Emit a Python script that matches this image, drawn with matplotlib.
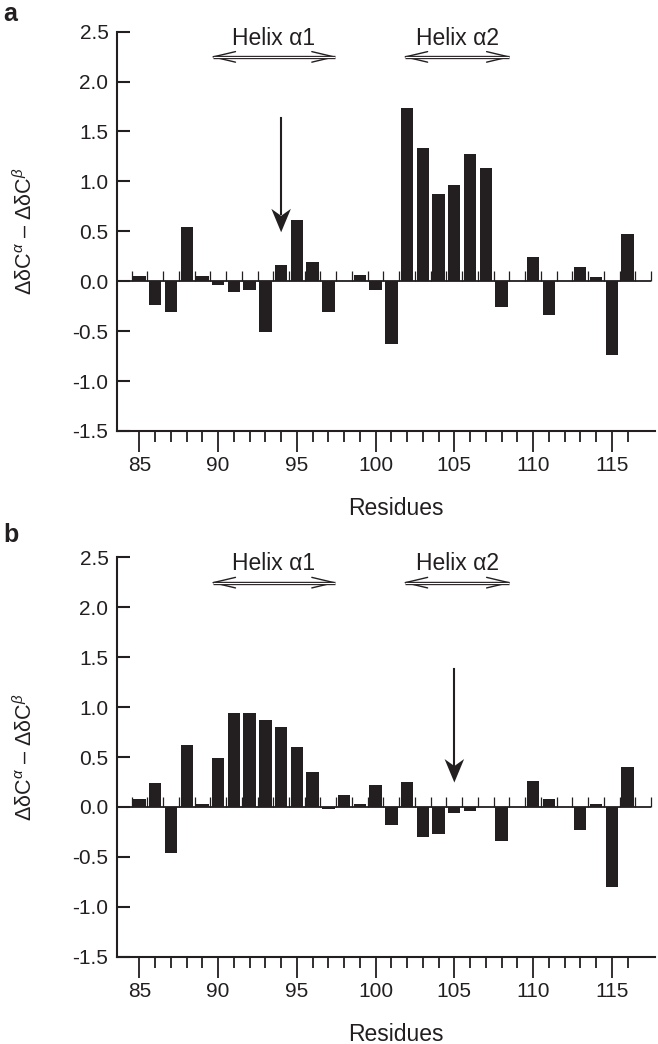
import numpy as np
import matplotlib
matplotlib.use("Agg")
import matplotlib.pyplot as plt
from matplotlib.patches import Polygon, FancyArrowPatch

plt.rcParams["font.family"] = ["Liberation Sans", "DejaVu Sans"]
plt.rcParams["mathtext.fontset"] = "custom"
plt.rcParams["mathtext.rm"] = "Liberation Sans"
plt.rcParams["mathtext.it"] = "Liberation Sans:italic"

INK = "#231F20"

# residues and chemical-shift differences
residues = list(range(85, 117))
shift_a = [0.05, -0.24, -0.31, 0.54, 0.05, -0.04, -0.11, -0.09, -0.51, 0.16, 0.61, 0.19,
           -0.31, 0.0, 0.06, -0.09, -0.63, 1.74, 1.33, 0.87, 0.96, 1.27, 1.13, -0.26,
           0.0, 0.24, -0.34, 0.0, 0.14, 0.04, -0.74, 0.47]
shift_b = [0.08, 0.24, -0.46, 0.62, 0.03, 0.49, 0.94, 0.94, 0.87, 0.80, 0.60, 0.35,
           -0.02, 0.12, 0.03, 0.22, -0.18, 0.25, -0.30, -0.27, -0.06, -0.04, 0.0, -0.34,
           0.0, 0.26, 0.08, 0.0, -0.23, 0.03, -0.80, 0.40]
yticks = [-1.5, -1.0, -0.5, 0.0, 0.5, 1.0, 1.5, 2.0, 2.5]
ytick_labels = ["-1.5", "-1.0", "-0.5", "0.0", "0.5", "1.0", "1.5", "2.0", "2.5"]
xticks_major = [85, 90, 95, 100, 105, 110, 115]
helices = [("Helix \u03b11", 89.5, 97.55), ("Helix \u03b12", 101.7, 108.65)]
arrow_res = {"a": (94, 1.63, 0.49), "b": (105, 1.38, 0.245)}

XL = (83.56, 117.74)
FS = 15
FS_TXT = 16.5

fig = plt.figure(figsize=(6.58, 10.44), dpi=100)
axes = {"a": fig.add_axes([0.1774, 0.5872, 0.818, 0.3825]),
        "b": fig.add_axes([0.1774, 0.0836, 0.818, 0.3825])}

def panel(ax, vals, key):
    ax.bar(residues, vals, width=0.78, color=INK, edgecolor="none", zorder=3)
    ax.plot([XL[0], 117.5], [0, 0], color=INK, lw=1.3, zorder=4, solid_capstyle="butt")
    edges = np.arange(84.5, 118.0, 1.0)
    ax.vlines(edges, 0, 0.1, color=INK, lw=0.9, zorder=2)
    ax.set_xlim(*XL); ax.set_ylim(-1.5, 2.5)
    for s in ["top", "right"]:
        ax.spines[s].set_visible(False)
    for s in ["left", "bottom"]:
        ax.spines[s].set_linewidth(1.5); ax.spines[s].set_color(INK)
    ax.set_yticks(yticks); ax.set_yticklabels(ytick_labels)
    ax.tick_params(axis="y", direction="in", length=9.4, width=1.5, pad=6, labelsize=FS, colors=INK)
    ax.set_xticks(xticks_major)
    ax.set_xticks([r for r in range(86, 117) if r % 5], minor=True)
    ax.tick_params(axis="x", which="major", direction="out", length=15, width=1.3, pad=3, labelsize=FS, colors=INK)
    ax.tick_params(axis="x", which="minor", direction="out", length=8, width=1.3, colors=INK)
    ax.set_xlabel("Residues", fontsize=FS_TXT, color=INK)
    ax.xaxis.set_label_coords(0.519, -0.165)
    ax.set_ylabel("\u0394\u03b4C$^{\\alpha}$ \u2013 \u0394\u03b4C$^{\\beta}$", fontsize=15.5, color=INK)
    ax.yaxis.set_label_coords(-0.148, 0.5)
    # helix spans: open double arrows with hollow shaft
    for name, x0, x1 in helices:
        ax.text((x0 + x1) / 2, 2.37, name, ha="center", va="baseline", fontsize=FS_TXT, color=INK)
        ax.add_patch(FancyArrowPatch((x0, 2.247), (x1, 2.247), arrowstyle="<->,head_length=16,head_width=3.8",
                                     mutation_scale=1, lw=1.0, color=INK, shrinkA=0, shrinkB=0, zorder=5))
        ax.plot([x0 + 0.15, x1 - 0.15], [2.247, 2.247], color=INK, lw=2.4, zorder=5, solid_capstyle="butt")
        ax.plot([x0 + 0.15, x1 - 0.15], [2.247, 2.247], color="white", lw=0.8, zorder=6, solid_capstyle="butt")
    # vertical marker arrow
    xr, ytop, ytip = arrow_res[key]
    ax.plot([xr, xr], [ytop, ytip + 0.18], color=INK, lw=1.5, zorder=5)
    ax.add_patch(Polygon([(xr, ytip), (xr - 0.62, ytip + 0.235), (xr, ytip + 0.165), (xr + 0.62, ytip + 0.235)],
                         closed=True, fc=INK, ec="none", zorder=6))

panel(axes["a"], shift_a, "a")
panel(axes["b"], shift_b, "b")
fig.text(0.005, 0.9865, "a", fontsize=18, fontweight="bold", va="center", ha="left", color=INK)
fig.text(0.005, 0.4875, "b", fontsize=18, fontweight="bold", va="center", ha="left", color=INK)
fig.savefig("out.png", dpi=100, facecolor="white")
